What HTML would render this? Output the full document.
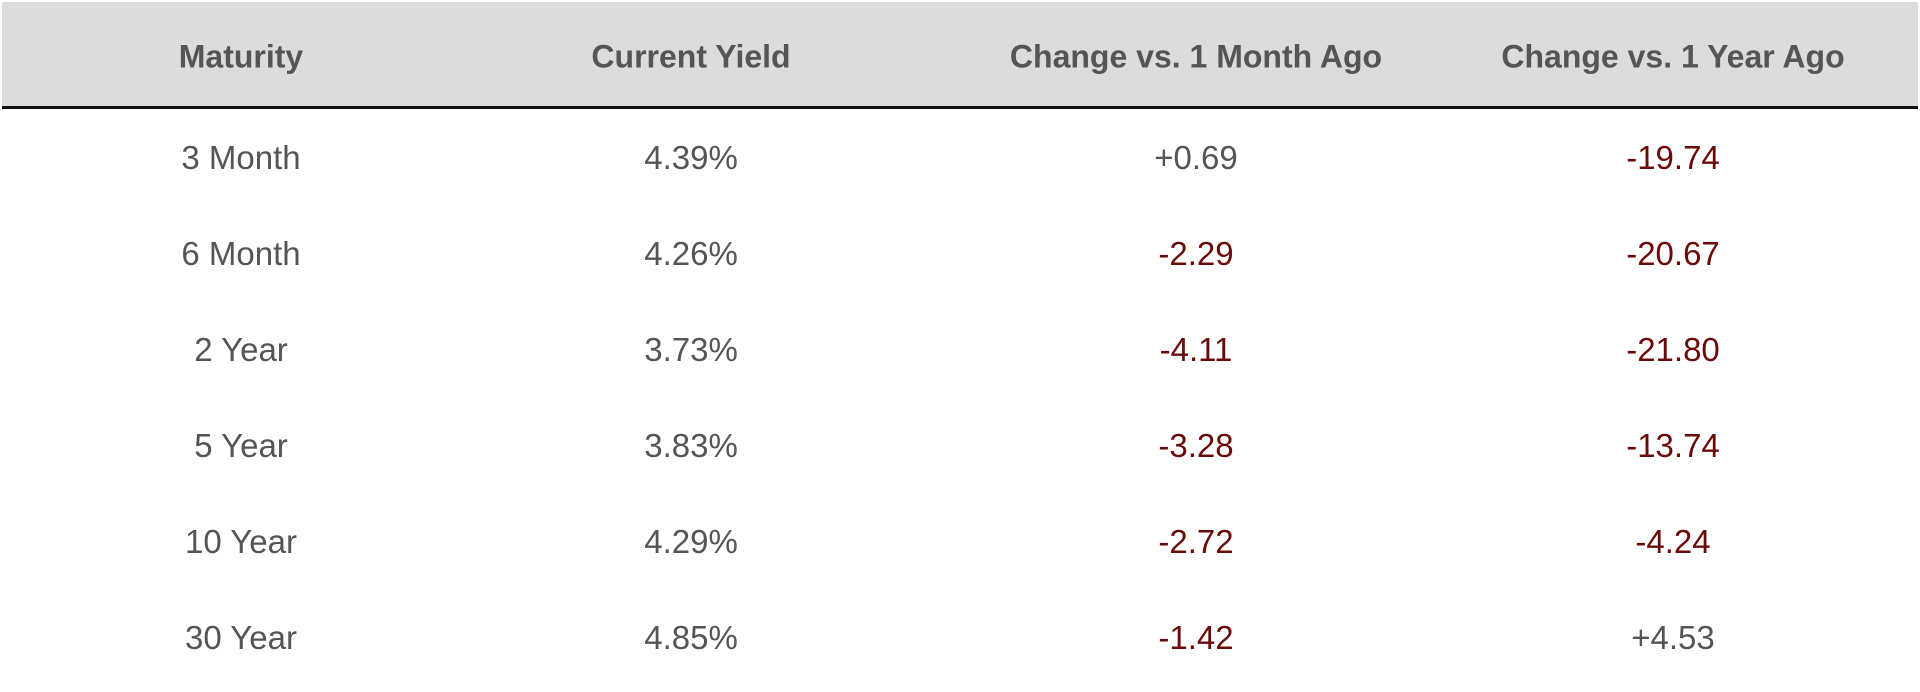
<!DOCTYPE html>
<html><head><meta charset="utf-8"><style>
body{margin:0;width:1920px;height:692px;background:#fff;font-family:"Liberation Sans",sans-serif;overflow:hidden;position:relative}
.hdr{position:absolute;left:2px;top:2px;width:1916px;height:105px;background:#dcdcdc}
.line{position:absolute;left:2px;top:106px;width:1916px;height:3px;background:#111}
.c{position:absolute;transform:translate(-50%,-50%);white-space:nowrap;color:#555;font-size:33px}
.h{font-weight:bold;font-size:32px}
.neg{color:#6b0a0a}
</style></head><body>
<div class="hdr"></div>
<div class="line"></div>
<div id="t"></div>
<script>
const headers=["Maturity","Current Yield","Change vs. 1 Month Ago","Change vs. 1 Year Ago"];
const maturities=["3 Month","6 Month","2 Year","5 Year","10 Year","30 Year"];
const yields=["4.39%","4.26%","3.73%","3.83%","4.29%","4.85%"];
const chgMonth=[0.69,-2.29,-4.11,-3.28,-2.72,-1.42];
const chgYear=[-19.74,-20.67,-21.80,-13.74,-4.24,4.53];
const colX=[241,691,1196,1673];
const headerY=57;
const rowY0=158, rowStep=96;
const t=document.getElementById('t');
function cell(txt,x,y,cls,name){
  const d=document.createElement('div');
  d.className='c '+cls;
  d.style.left=x+'px';d.style.top=y+'px';
  d.textContent=txt;
  
  
  t.appendChild(d);
}
const fmt=v=>(v>0?'+':'')+v.toFixed(2);
headers.forEach((h,i)=>cell(h,colX[i],headerY,'h','header-'+i));
maturities.forEach((m,r)=>{
  const y=rowY0+r*rowStep;
  cell(m,colX[0],y,'','maturity-'+r);
  cell(yields[r],colX[1],y,'','yield-'+r);
  cell(fmt(chgMonth[r]),colX[2],y,chgMonth[r]<0?'neg':'','change-month-'+r);
  cell(fmt(chgYear[r]),colX[3],y,chgYear[r]<0?'neg':'','change-year-'+r);
});
</script>
</body></html>
